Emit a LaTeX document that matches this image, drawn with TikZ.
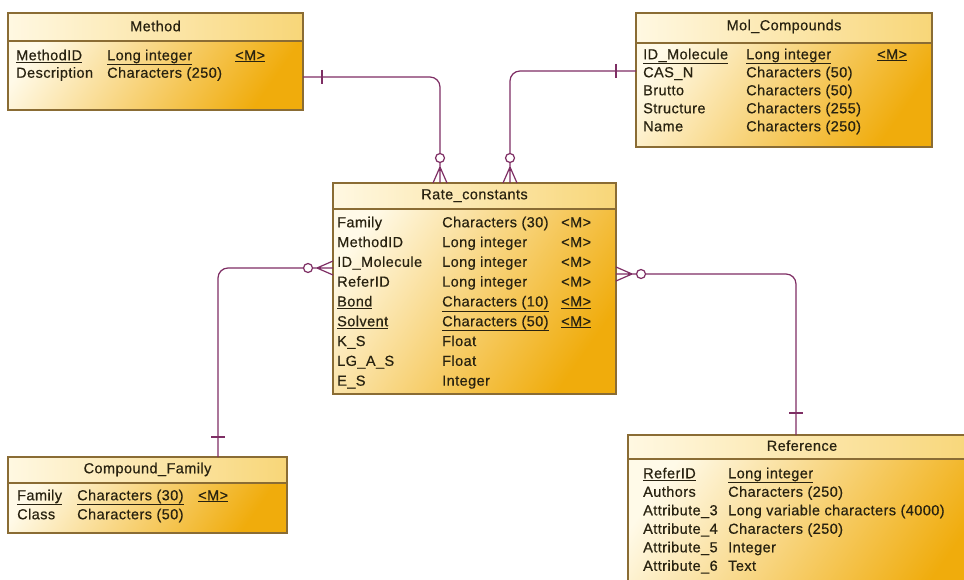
\documentclass[tikz,border=0pt]{standalone}
\usepackage{fontspec}
\setmainfont[LetterSpace=3, FakeBold=0.5]{Liberation Sans}
\usetikzlibrary{calc}

\definecolor{cream}{RGB}{255,250,232}
\definecolor{gold}{RGB}{240,172,12}
\definecolor{titlel}{RGB}{255,248,226}
\definecolor{titler}{RGB}{248,214,120}
\definecolor{edgec}{RGB}{138,108,52}
\definecolor{linkc}{RGB}{126,46,100}
\definecolor{ink}{RGB}{40,34,16}

\newcommand\ul[1]{\underline{#1}}
% entity table: name, left, top, width, height, height of the title bar
\newcommand\erentity[6]{%
  \node[entitybox, minimum width=#4pt, minimum height=#5pt, anchor=north west] (#1) at (#2,#3) {};
  \shade[titlebar] (#1.north west) rectangle ($(#1.north east)+(0,#6)$);
  \draw[entityedge] (#1.north west) rectangle (#1.south east);
  \draw[sepline] ($(#1.north west)+(0,#6)$) -- ($(#1.north east)+(0,#6)$);
}

\tikzset{
  link/.style={draw=linkc, line width=1.2pt},
  entitybox/.style={draw=none, inner sep=0pt, outer sep=0pt,
    top color=cream, bottom color=gold, shading angle=55},
  titlebar/.style={left color=titlel, right color=titler},
  entityedge/.style={draw=edgec, line width=1.3pt},
  sepline/.style={draw=edgec, line width=1.7pt},
  fld/.style={anchor=west, inner sep=0pt, text height=10.5pt, text depth=0pt,
    text=ink, font=\fontsize{14.5}{17}\selectfont},
  ttl/.style={fld, anchor=center},
  zeromany/.pic={
    \draw[link] (0,-7) -- (16,0) -- (0,7) (0,0) -- (20.5,0);
    \draw[link] (25,0) circle[radius=4.5];
  },
  onebar/.pic={\draw[link] (0,-7) -- (0,7);}
}

\begin{document}
\begin{tikzpicture}[x=1pt,y=-1pt]
\useasboundingbox (0,0) rectangle (964,580);
\clip (0,0) rectangle (964,580);
\fill[white] (0,0) rectangle (964,580);

% ---------- tables ----------
\erentity{method}{8}{13}{295}{97}{28}
\node[ttl] (m-title) at ($(method.north)+(0,13)$) {Method};
\node[fld] (m-n1) at (16,55) {\ul{MethodID}};
\node[fld] (m-t1) at (107,55) {\ul{Long integer}};
\node[fld] (m-m1) at (235,55) {\ul{<M>}};
\node[fld] (m-n2) at (16,72.5) {Description};
\node[fld] (m-t2) at (107,72.5) {Characters (250)};

\erentity{mol}{636}{13}{296}{134}{30}
\node[ttl] (mc-title) at ($(mol.north)+(0,12)$) {Mol\_Compounds};
\node[fld] (mc-n1) at (643,54) {\ul{ID\_Molecule}};
\node[fld] (mc-t1) at (746,54) {\ul{Long integer}};
\node[fld] (mc-m1) at (877,54) {\ul{<M>}};
\node[fld] (mc-n2) at (643,72) {CAS\_N};
\node[fld] (mc-t2) at (746,72) {Characters (50)};
\node[fld] (mc-n3) at (643,90) {Brutto};
\node[fld] (mc-t3) at (746,90) {Characters (50)};
\node[fld] (mc-n4) at (643,108) {Structure};
\node[fld] (mc-t4) at (746,108) {Characters (255)};
\node[fld] (mc-n5) at (643,126) {Name};
\node[fld] (mc-t5) at (746,126) {Characters (250)};

\erentity{rate}{333}{183}{283}{211}{26}
\node[ttl] (rc-title) at ($(rate.north)+(0,11)$) {Rate\_constants};
\node[fld] (rc-n1) at (337,222) {Family};
\node[fld] (rc-t1) at (442,222) {Characters (30)};
\node[fld] (rc-m1) at (561,222) {<M>};
\node[fld] (rc-n2) at (337,241.8) {MethodID};
\node[fld] (rc-t2) at (442,241.8) {Long integer};
\node[fld] (rc-m2) at (561,241.8) {<M>};
\node[fld] (rc-n3) at (337,261.6) {ID\_Molecule};
\node[fld] (rc-t3) at (442,261.6) {Long integer};
\node[fld] (rc-m3) at (561,261.6) {<M>};
\node[fld] (rc-n4) at (337,281.4) {ReferID};
\node[fld] (rc-t4) at (442,281.4) {Long integer};
\node[fld] (rc-m4) at (561,281.4) {<M>};
\node[fld] (rc-n5) at (337,301.2) {\ul{Bond}};
\node[fld] (rc-t5) at (442,301.2) {\ul{Characters (10)}};
\node[fld] (rc-m5) at (561,301.2) {\ul{<M>}};
\node[fld] (rc-n6) at (337,321) {\ul{Solvent}};
\node[fld] (rc-t6) at (442,321) {\ul{Characters (50)}};
\node[fld] (rc-m6) at (561,321) {\ul{<M>}};
\node[fld] (rc-n7) at (337,340.8) {K\_S};
\node[fld] (rc-t7) at (442,340.8) {Float};
\node[fld] (rc-n8) at (337,360.6) {LG\_A\_S};
\node[fld] (rc-t8) at (442,360.6) {Float};
\node[fld] (rc-n9) at (337,380.4) {E\_S};
\node[fld] (rc-t9) at (442,380.4) {Integer};

\erentity{cf}{8}{457}{279}{76}{26}
\node[ttl] (cf-title) at ($(cf.north)+(0,11)$) {Compound\_Family};
\node[fld] (cf-n1) at (17,495) {\ul{Family}};
\node[fld] (cf-t1) at (77,495) {\ul{Characters (30)}};
\node[fld] (cf-m1) at (198,495) {\ul{<M>}};
\node[fld] (cf-n2) at (17,514) {Class};
\node[fld] (cf-t2) at (77,514) {Characters (50)};

\erentity{ref}{628}{435}{348}{175}{24}
\node[ttl] (rf-title) at ($(ref.north)+(0,10.5)$) {Reference};
\node[fld] (rf-n1) at (643,473) {\ul{ReferID}};
\node[fld] (rf-t1) at (728,473) {\ul{Long integer}};
\node[fld] (rf-n2) at (643,491.5) {Authors};
\node[fld] (rf-t2) at (728,491.5) {Characters (250)};
\node[fld] (rf-n3) at (643,510) {Attribute\_3};
\node[fld] (rf-t3) at (728,510) {Long variable characters (4000)};
\node[fld] (rf-n4) at (643,528.5) {Attribute\_4};
\node[fld] (rf-t4) at (728,528.5) {Characters (250)};
\node[fld] (rf-n5) at (643,547) {Attribute\_5};
\node[fld] (rf-t5) at (728,547) {Integer};
\node[fld] (rf-n6) at (643,565.5) {Attribute\_6};
\node[fld] (rf-t6) at (728,565.5) {Text};

% ---------- relationships ----------
% Method -> Rate_constants
\draw[link, rounded corners=10pt] (method.east |- 0,77) -| ($(rate.north -| 440,0)+(0,-29.5)$);
\pic at ($(method.east |- 0,77)+(19,0)$) {onebar};
\pic[rotate=90] at (rate.north -| 440,0) {zeromany};

% Mol_Compounds -> Rate_constants
\draw[link, rounded corners=10pt] (mol.west |- 0,71) -| ($(rate.north -| 510,0)+(0,-29.5)$);
\pic at ($(mol.west |- 0,71)+(-20,0)$) {onebar};
\pic[rotate=90] at (rate.north -| 510,0) {zeromany};

% Compound_Family -> Rate_constants
\draw[link, rounded corners=10pt] (cf.north -| 218,0) |- ($(rate.west |- 0,268)+(-29.5,0)$);
\pic[rotate=90] at ($(cf.north -| 218,0)+(0,-20)$) {onebar};
\pic[rotate=180] at (rate.west |- 0,268) {zeromany};

% Reference -> Rate_constants
\draw[link, rounded corners=10pt] ($(rate.east |- 0,274)+(29.5,0)$) -| (ref.north -| 796,0);
\pic[rotate=90] at ($(ref.north -| 796,0)+(0,-22)$) {onebar};
\pic at (rate.east |- 0,274) {zeromany};
\end{tikzpicture}
\end{document}
